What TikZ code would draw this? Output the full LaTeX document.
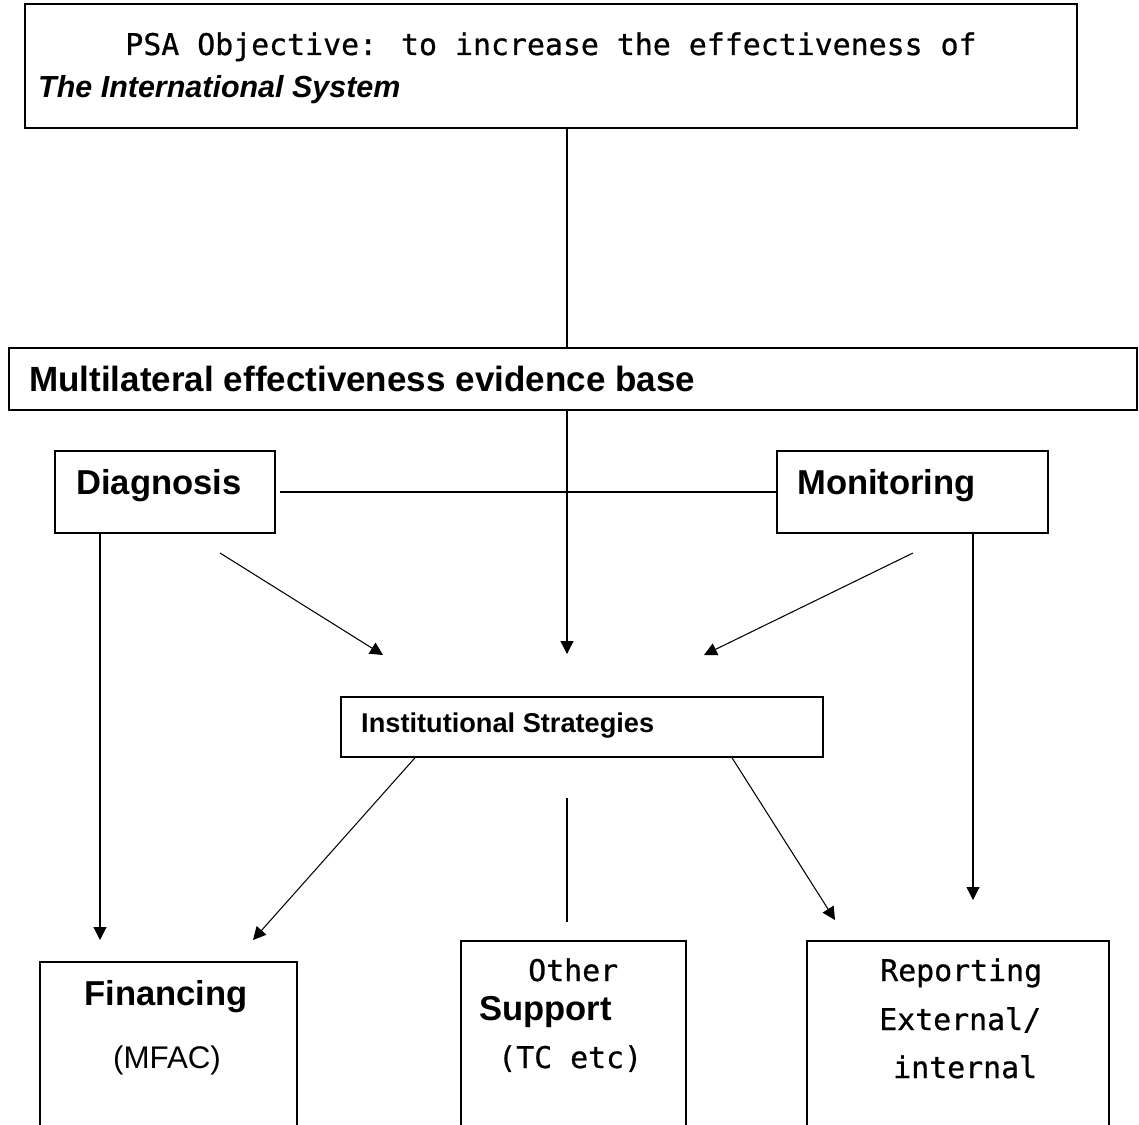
\documentclass[tikz,border=0pt]{standalone}
\usepackage{fontspec}
\setmainfont{Liberation Sans}
\newfontfamily\monof[FakeBold=0.7]{DejaVu Sans Mono}
\usetikzlibrary{arrows.meta,fit}
\begin{document}
\begin{tikzpicture}[x=0.03cm,y=-0.03cm,
  box/.style={draw,line width=1.3pt,inner sep=0pt},
  conn/.style={line width=0.9pt},
  arr/.style={line width=0.9pt,-{Triangle[length=11pt,width=11pt]}},
  txt/.style={anchor=base west,inner sep=0pt},
  ctxt/.style={anchor=base,inner sep=0pt},
  fbold/.style={font=\fontsize{29.5pt}{34pt}\selectfont\bfseries},
  fmono/.style={font=\fontsize{25.5pt}{30pt}\selectfont\monof}]
\useasboundingbox (0,0) rectangle (1139,1125);
\clip (0,0) rectangle (1139,1125);
\fill[white] (0,0) rectangle (1139,1125);

% boxes
\node[box,fit={(25,4) (1077,128)}] (top) {};
\node[box,fit={(9,348) (1137,410)}] (multi) {};
\node[box,fit={(55,451) (275,533)}] (diag) {};
\node[box,fit={(777,451) (1048,533)}] (mon) {};
\node[box,fit={(341,697) (823,757)}] (inst) {};
\node[box,fit={(40,962) (297,1160)}] (fin) {};
\node[box,fit={(461,941) (686,1160)}] (oth) {};
\node[box,fit={(807,941) (1109,1160)}] (rep) {};

% texts
\node[ctxt,fmono] (ttop) at (551,55) {PSA Objective: to increase the effectiveness of};
\node[txt,font=\fontsize{26pt}{30pt}\selectfont\bfseries\itshape] (tint) at (38,98) {The International System};
\node[txt,font=\fontsize{29.9pt}{34pt}\selectfont\bfseries] (tmulti) at (29,391) {Multilateral effectiveness evidence base};
\node[txt,fbold] (tdiag) at (76,494) {Diagnosis};
\node[txt,fbold] (tmon) at (797,494) {Monitoring};
\node[txt,font=\fontsize{23.2pt}{28pt}\selectfont\bfseries] (tinst) at (361,732) {Institutional Strategies};
\node[ctxt,fbold] (tfin) at (166,1005) {Financing};
\node[ctxt,font=\fontsize{26.7pt}{30pt}\selectfont] (tmfac) at (167,1068) {(MFAC)};
\node[txt,fmono] (toth) at (528,981) {Other};
\node[txt,fbold] (tsup) at (479,1020) {Support};
\node[txt,fmono] (ttc) at (498,1068) {(TC etc)};
\node[txt,fmono] (trep) at (880,981) {Reporting};
\node[txt,fmono] (text) at (879,1030) {External/};
\node[txt,fmono] (tintl) at (893,1078) {internal};

% connector coordinates
\coordinate (cx) at (567,0);
\coordinate (hl) at (280,492);
\coordinate (tipC) at (567,654);
\coordinate (dx) at (100,0);
\coordinate (tipD) at (100,940);
\coordinate (mx) at (973,0);
\coordinate (tipM) at (973,900);
\coordinate (dA) at (220,553);
\coordinate (tipDA) at (383,655);
\coordinate (mA) at (913,553);
\coordinate (tipMA) at (704,655);
\coordinate (iL) at (415,0);
\coordinate (tipF) at (253,940);
\coordinate (iR) at (732,0);
\coordinate (tipR) at (835,920);
\coordinate (oS) at (567,798);
\coordinate (oE) at (567,922);

% connectors
\draw[conn] (top.south -| cx) -- (multi.north -| cx);
\draw[arr] (multi.south -| cx) -- (tipC);
\draw[conn] (hl) -- (mon.west);
\draw[arr] (diag.south -| dx) -- (tipD);
\draw[arr] (mon.south -| mx) -- (tipM);
\draw[arr] (dA) -- (tipDA);
\draw[arr] (mA) -- (tipMA);
\draw[arr] (inst.south -| iL) -- (tipF);
\draw[arr] (inst.south -| iR) -- (tipR);
\draw[conn] (oS) -- (oE);
\end{tikzpicture}
\end{document}
